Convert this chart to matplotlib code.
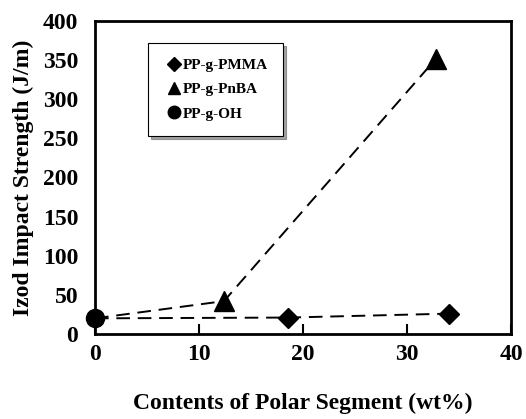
import matplotlib
matplotlib.use('Agg')
import matplotlib.pyplot as plt
from matplotlib.lines import Line2D

# data
pmma_x = [0, 18.6, 34.0]
pmma_y = [20, 21, 26]
pnba_x = [0, 12.4, 32.8]
pnba_y = [20, 42, 352]
oh_x = [0]
oh_y = [20]

xticks = [0, 10, 20, 30, 40]
yticks = [0, 50, 100, 150, 200, 250, 300, 350, 400]

plt.rcParams['font.family'] = ['Liberation Serif', 'DejaVu Serif']
plt.rcParams['font.weight'] = 'bold'

fig = plt.figure(figsize=(5.26, 4.19), dpi=100)
ax = fig.add_axes([0.1806, 0.2029, 0.7909, 0.747])

dash = (0, (7, 4))
ax.plot(pmma_x, pmma_y, color='black', lw=1.4, linestyle=dash, zorder=2)
ax.plot(pnba_x, pnba_y, color='black', lw=1.4, linestyle=dash, zorder=2)

ax.plot(pmma_x[1:], pmma_y[1:], 'D', color='black', ms=10, clip_on=False, zorder=3)
ax.plot(pnba_x[1:], pnba_y[1:], '^', color='black', ms=14, clip_on=False, zorder=3)
ax.plot(oh_x, oh_y, 'o', color='black', ms=13, clip_on=False, zorder=3)

ax.set_xlim(0, 40)
ax.set_ylim(0, 400)
ax.set_xticks(xticks)
ax.set_yticks(yticks)
ax.tick_params(axis='x', direction='in', length=7, width=1.5, pad=7, labelsize=17)
ax.tick_params(axis='y', direction='in', length=0, width=1.5, pad=12, labelsize=17)
for s in ax.spines.values():
    s.set_linewidth(2)

ax.set_xlabel('Contents of Polar Segment (wt%)', fontsize=17, fontweight='bold', labelpad=20)
ax.set_ylabel('Izod Impact Strength (J/m)', fontsize=17, fontweight='bold', labelpad=6)

handles = [
    Line2D([], [], marker='D', color='black', linestyle='none', ms=7),
    Line2D([], [], marker='^', color='black', linestyle='none', ms=9),
    Line2D([], [], marker='o', color='black', linestyle='none', ms=9),
]
labels = ['PP-g-PMMA', 'PP-g-PnBA', 'PP-g-OH']
leg = ax.legend(handles, labels, loc='upper left', bbox_to_anchor=(0.127, 0.93),
                fancybox=False, shadow=True, edgecolor='black', framealpha=1,
                prop={'family': 'Liberation Serif', 'weight': 'bold', 'size': 11},
                handlelength=1.4, handletextpad=-0.1, labelspacing=0.7,
                borderpad=1.0, borderaxespad=0)
leg.get_frame().set_linewidth(0.8)

fig.savefig('out.png', dpi=100)
